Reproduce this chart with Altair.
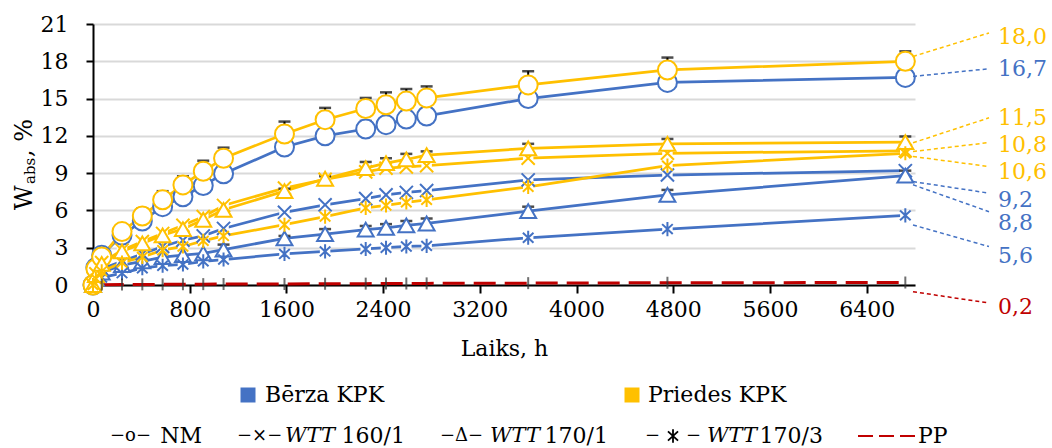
import altair as alt
import pandas as pd

# ---------------- data ----------------
hours = [0, 24, 72, 240, 408, 576, 744, 912, 1080, 1584, 1920, 2256, 2424, 2592, 2760, 3600, 4752, 6720]
woods = ["Bērza KPK", "Priedes KPK"]
treatments = ["NM", "WTT 160/1", "WTT 170/1", "WTT 170/3"]

berza_nm = [0, 1.4, 2.4, 4.0, 5.15, 6.3, 7.1, 8.0, 8.95, 11.1, 12.0, 12.55, 12.9, 13.35, 13.6, 15.0, 16.3, 16.7]
priedes_nm = [0, 1.3, 2.25, 4.3, 5.55, 6.85, 8.05, 9.15, 10.2, 12.15, 13.3, 14.2, 14.5, 14.8, 15.05, 16.1, 17.3, 18.0]
berza_160 = [0, 0.6, 1.3, 1.9, 2.5, 3.1, 3.6, 3.95, 4.55, 5.85, 6.45, 6.95, 7.25, 7.45, 7.6, 8.45, 8.85, 9.2]
priedes_160 = [0, 0.9, 1.8, 2.8, 3.5, 4.15, 4.8, 5.5, 6.4, 7.8, 8.5, 9.1, 9.4, 9.5, 9.6, 10.2, 10.6, 10.8]
berza_170_1 = [0, 0.5, 1.0, 1.6, 1.9, 2.25, 2.4, 2.55, 2.85, 3.75, 4.1, 4.45, 4.6, 4.8, 4.95, 5.95, 7.25, 8.8]
priedes_170_1 = [0, 0.8, 1.7, 2.7, 3.35, 4.0, 4.5, 5.25, 6.05, 7.55, 8.55, 9.4, 9.8, 10.1, 10.45, 11.0, 11.35, 11.5]
berza_170_3 = [0, 0.3, 0.6, 0.95, 1.35, 1.55, 1.65, 1.9, 2.05, 2.5, 2.7, 2.9, 3.0, 3.1, 3.15, 3.8, 4.5, 5.6]
priedes_170_3 = [0, 0.5, 1.1, 1.8, 2.25, 2.8, 3.1, 3.55, 3.95, 4.85, 5.5, 6.2, 6.4, 6.65, 6.85, 7.9, 9.6, 10.6]

# upper error bars
berza_nm_err = [0, 0, 0, 0.1, 0.3, 0.3, 0.3, 0.4, 0.4, 0.5, 0.5, 0.65, 0.6, 0.6, 0.6, 0.5, 0.5, 0.5]
priedes_nm_err = [0, 0, 0.1, 0.2, 0.6, 0.7, 0.7, 0.85, 0.85, 1.0, 0.95, 0.85, 1.0, 0.97, 0.93, 1.1, 1.0, 0.8]
berza_170_1_err = [0, 0, 0, 0, 0, 0, 0, 0, 0.4, 0.2, 0.4, 0.3, 0.3, 0.35, 0.4, 0.35, 0.4, 0.4]
priedes_170_1_err = [0, 0, 0, 0, 0, 0, 0, 0, 0, 0.2, 0.2, 0.5, 0.4, 0.45, 0.3, 0.36, 0.4, 0.45]
zero_err = [0] * len(hours)

pp_hours = hours[2:]
pp_values = [0.03, 0.04, 0.05, 0.05, 0.06, 0.07, 0.08, 0.08, 0.1, 0.11, 0.12, 0.12, 0.13, 0.15, 0.18, 0.2]

label_texts = ["18,0", "16,7", "11,5", "10,8", "10,6", "9,2", "8,8", "5,6", "0,2"]
label_groups = ["Priedes KPK", "Bērza KPK", "Priedes KPK", "Priedes KPK", "Priedes KPK",
                "Bērza KPK", "Bērza KPK", "Bērza KPK", "PP"]
label_y = [19.98, 17.4, 13.45, 11.28, 9.1, 6.8, 4.95, 2.34, -1.77]
leader_start = [18.39, 16.78, 11.44, 10.74, 10.34, 8.32, 8.06, 4.83, -0.54]
leader_end = [20.28, 17.4, 13.45, 11.46, 9.53, 7.39, 5.9, 3.09, -1.45]

# ---------------- tables ----------------
series_def = [
    ("Bērza KPK", "NM", berza_nm, berza_nm_err),
    ("Bērza KPK", "WTT 160/1", berza_160, zero_err),
    ("Bērza KPK", "WTT 170/1", berza_170_1, berza_170_1_err),
    ("Bērza KPK", "WTT 170/3", berza_170_3, zero_err),
    ("Priedes KPK", "NM", priedes_nm, priedes_nm_err),
    ("Priedes KPK", "WTT 160/1", priedes_160, zero_err),
    ("Priedes KPK", "WTT 170/1", priedes_170_1, priedes_170_1_err),
    ("Priedes KPK", "WTT 170/3", priedes_170_3, zero_err),
]
rows = []
k = 0
for wood, tr, vals, errs in series_def:
    for h, v, e in zip(hours, vals, errs):
        rows.append({"hours": h, "value": v, "err": e, "top": v + e,
                     "wood": wood, "treatment": tr, "series": wood + " " + tr, "k": k})
        k += 1
df = pd.DataFrame(rows)
pp_df = pd.DataFrame({"hours": pp_hours, "value": pp_values, "wood": "PP"})
lab_df = pd.DataFrame({"text": label_texts, "wood": label_groups, "ly": label_y,
                       "y0": leader_start, "y1": leader_end})

FONT = "DejaVu Serif"
FS = 22
BLUE, YELLOW, RED = "#4472C4", "#FFC000", "#C00000"
X_PATH = "M-0.75,-0.75L0.75,0.75M-0.75,0.75L0.75,-0.75"
AST_PATH = "M0,-1L0,1M-0.75,-0.7L0.75,0.7M-0.75,0.7L0.75,-0.7"

color_scale = alt.Scale(domain=["Bērza KPK", "Priedes KPK", "PP"], range=[BLUE, YELLOW, RED])
xscale = alt.Scale(domain=[0, 6800], nice=False, zero=False)
yscale = alt.Scale(domain=[0, 21], nice=False)
xaxis = alt.Axis(values=list(range(0, 6401, 800)), format="d", title="Laiks, h", grid=False,
                 tickSize=8, labelPadding=6, titlePadding=18, labelFlush=False, labelOverlap=False)
yaxis = alt.Axis(values=list(range(0, 22, 3)), format="d", title=None, grid=True, gridColor="#D9D9D9",
                 gridWidth=2, tickSize=7, labelPadding=18, labelOverlap=False)


def X(field="hours:Q"):
    return alt.X(field, scale=xscale, axis=xaxis)


def Y(field="value:Q"):
    return alt.Y(field, scale=yscale, axis=yaxis)


col = alt.Color("wood:N", scale=color_scale, legend=None)

base = alt.Chart(df)

lines = base.mark_line(strokeWidth=2.75).encode(
    x=X(), y=Y(), color=col, detail="series:N", order="k:Q")

pp_line = alt.Chart(pp_df).mark_line(strokeWidth=3, strokeDash=[22, 9]).encode(
    x=X(), y=Y(), color=col)

gaps = base.transform_filter(
    "datum.treatment == 'WTT 160/1' || datum.treatment == 'WTT 170/3'"
).mark_square(size=110, color="white", opacity=1).encode(x=X(), y=Y())

err_rule = base.transform_filter("datum.err > 0").mark_rule(color="black", strokeWidth=2).encode(
    x=X(), y=Y(), y2="top:Q")
err_cap = base.transform_filter("datum.err > 0").mark_tick(
    orient="horizontal", color="black", size=12, thickness=2.5).encode(x=X(), y=Y("top:Q"))

points = base.mark_point(filled=False, fill="white", fillOpacity=1, strokeWidth=2, opacity=1).encode(
    x=X(), y=Y(), color=col,
    shape=alt.Shape("treatment:N", scale=alt.Scale(domain=treatments,
                    range=["circle", X_PATH, "triangle-up", AST_PATH]), legend=None),
    size=alt.Size("treatment:N", scale=alt.Scale(domain=treatments, range=[361, 200, 240, 324]),
                  legend=None),
    order="k:Q")

pp_ticks = alt.Chart(pp_df).mark_tick(orient="vertical", color="#333333", size=12, thickness=2).encode(
    x=X(), y=Y())

leaders = alt.Chart(lab_df).mark_rule(strokeWidth=1.5, strokeDash=[4, 3]).encode(
    x=alt.value(820), x2=alt.value(896), y=Y("y0:Q"), y2="y1:Q", color=col)
labels = alt.Chart(lab_df).mark_text(font=FONT, fontSize=FS, align="left", baseline="middle").encode(
    x=alt.value(905), y=Y("ly:Q"), text="text:N", color=col)

one = pd.DataFrame({"a": [0]})


def txt(s, x, y, size=FS, style="normal", color="black", angle=0, align="left", baseline="middle"):
    kw = dict(text=s, font=FONT, fontSize=size, fontStyle=style, color=color,
              align=align, baseline=baseline)
    if angle:
        kw["angle"] = angle
    return alt.Chart(one).mark_text(**kw).encode(x=alt.value(x), y=alt.value(y))


# y-axis title W_abs, %
ytitle = [
    txt("W", -61, 186, size=24, angle=270, baseline="alphabetic"),
    txt("abs", -58, 160, size=15, angle=270, baseline="alphabetic"),
    txt(", %", -61, 133, size=24, angle=270, baseline="alphabetic"),
]

LY = 412
GS = 18
legend_layers = [
    alt.Chart(one).mark_square(size=225, color=BLUE, opacity=1).encode(x=alt.value(155), y=alt.value(371)),
    txt("Bērza KPK", 172, 371),
    alt.Chart(one).mark_square(size=225, color=YELLOW, opacity=1).encode(x=alt.value(539), y=alt.value(371)),
    txt("Priedes KPK", 555, 371),
    txt("−o−", 17, LY, size=GS),
    txt("NM", 109, LY, align="right"),
    txt("−×−", 144, LY, size=GS),
    txt("WTT", 192, LY, size=21, style="italic"),
    txt("160/1", 312, LY, align="right"),
    txt("−Δ−", 347, LY, size=GS),
    txt("WTT", 397, LY, size=21, style="italic"),
    txt("170/1", 515, LY, align="right"),
    txt("−", 552, LY, size=GS),
    alt.Chart(one).mark_point(shape=AST_PATH, size=180, color="black", strokeWidth=1.8, opacity=1).encode(
        x=alt.value(580), y=alt.value(LY)),
    txt("−", 593, LY, size=GS),
    txt("WTT", 614, LY, size=21, style="italic"),
    txt("170/3", 730, LY, align="right"),
    alt.Chart(one).mark_rule(color=RED, strokeWidth=2, strokeDash=[15, 6]).encode(
        x=alt.value(765), x2=alt.value(822), y=alt.value(LY)),
    txt("PP", 825, LY),
]

chart = alt.layer(
    lines, pp_line, gaps, err_rule, err_cap, points, pp_ticks, leaders, labels,
    *ytitle, *legend_layers
).properties(
    width=822, height=261,
    autosize=alt.AutoSizeParams(type="none"),
    padding={"left": 93, "top": 24, "right": 137, "bottom": 163},
    background="white",
).configure_view(stroke=None).configure_axis(
    labelFont=FONT, labelFontSize=FS, labelColor="black",
    titleFont=FONT, titleFontSize=FS, titleFontWeight="normal", titleColor="black",
    domainColor="black", domainWidth=2, tickColor="black", tickWidth=2,
)

chart.save("out.html", embed_options={"renderer": "svg", "actions": False})
